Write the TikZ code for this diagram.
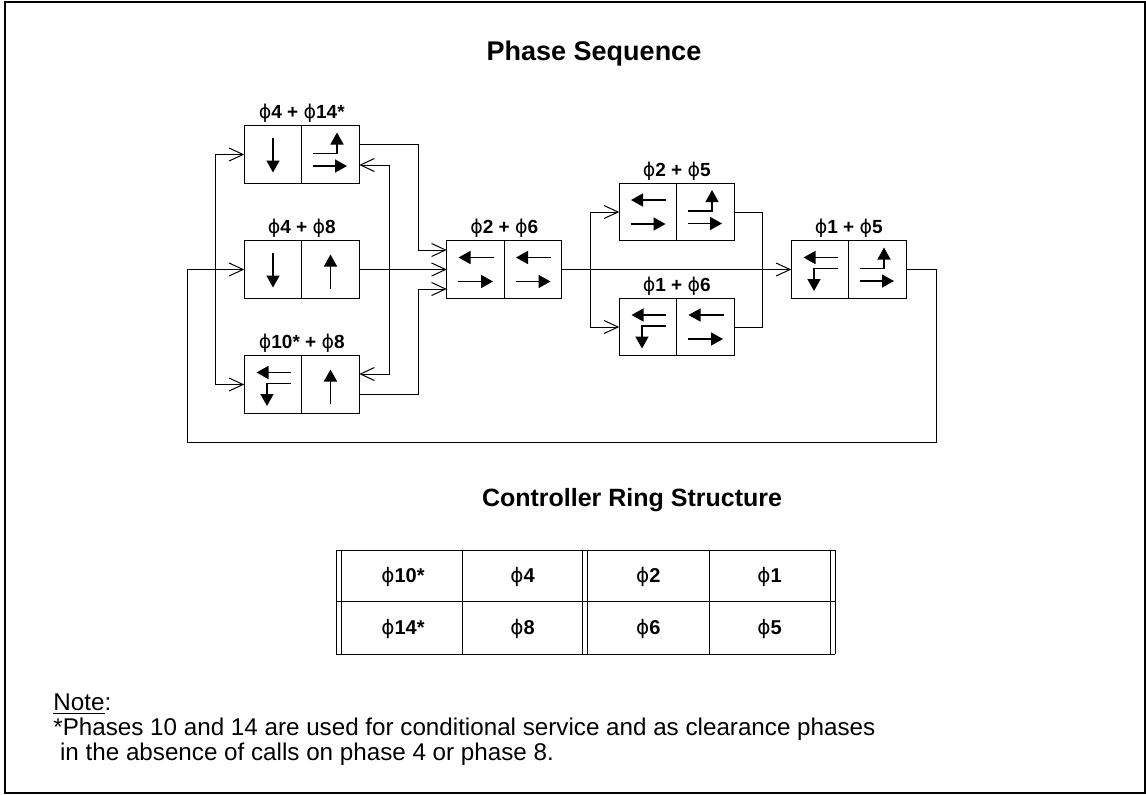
\documentclass[tikz,border=0pt]{standalone}
\usepackage{fontspec}
\setmainfont{Liberation Sans}
\newfontfamily\phifont{DejaVu Sans}
\newcommand\ph{{\phifont\mdseries ϕ}}
\usetikzlibrary{positioning,arrows.meta}

\tikzset{
  cell/.style={draw, line width=0.7pt, minimum width=28.75pt, minimum height=28.75pt,
    inner sep=0pt, outer sep=0pt},
  plabel/.style={anchor=base, inner sep=0pt, font=\fontsize{9.5}{11}\selectfont\bfseries},
  feed/.style={line width=0.5pt, -{Straight Barb[length=7pt,width=6.5pt]}},
  wire/.style={line width=0.5pt},
  mv/.style={line width=0.8pt, -{Triangle[length=6pt,width=6.5pt]}},
  heading/.style={inner sep=0pt, font=\fontsize{13.5}{16}\selectfont\bfseries},
  ringtext/.style={inner sep=0pt, font=\fontsize{10}{12}\selectfont\bfseries},
  notetext/.style={inner sep=0pt, align=left, font=\fontsize{12.1}{12.5}\selectfont},
  % movement glyphs inside a cell
  thrudown/.pic={\draw[mv] (0,-17) -- (0,18);},
  thruup/.pic={\draw[mv] (0,19) -- (0,-15);},
  bothways/.pic={\draw[mv] (18,-12) -- (-17,-12); \draw[mv] (-17.5,12) -- (17.5,12);},
  rightup/.pic={\draw[mv] (-18,-1) -| (6.5,-22); \draw[mv] (-18,11.5) -- (16.5,11.5);},
  leftdown/.pic={\draw[mv] (18,-12) -- (-16.5,-12); \draw[mv] (18,-1) -| (-6,21.5);},
}

\begin{document}
\begin{tikzpicture}[x=0.5pt, y=-0.5pt]
  \useasboundingbox (0,0) rectangle (1146,794);
  \draw[line width=1pt] (4.5,1.5) rectangle (1144.5,792.5);

  % headings
  \node[heading] (seqtitle) at (594,54) {Phase Sequence};
  \node[heading, font=\fontsize{12.5}{15}\selectfont\bfseries] (ringtitle) at (632,500) {Controller Ring Structure};

  % left column of phase pairs
  \node[cell] (ph4b) at (273,269.5) {};
  \node[cell, right=0pt of ph4b] (ph8b) {};
  \node[cell, above=28.75pt of ph4b] (ph4a) {};
  \node[cell, right=0pt of ph4a] (ph14) {};
  \node[cell, below=28.75pt of ph4b] (ph10) {};
  \node[cell, right=0pt of ph10] (ph8c) {};

  % middle pair
  \node[cell, right=43.75pt of ph8b] (ph2d) {};
  \node[cell, right=0pt of ph2d] (ph6d) {};

  % branches
  \node[cell, above right=0pt and 28.75pt of ph6d] (ph2e) {};
  \node[cell, right=0pt of ph2e] (ph5e) {};
  \node[cell, below right=0pt and 28.75pt of ph6d] (ph1f) {};
  \node[cell, right=0pt of ph1f] (ph6f) {};

  % last pair
  \node[cell, right=114.75pt of ph6d] (ph1g) {};
  \node[cell, right=0pt of ph1g] (ph5g) {};

  % pair labels
  \node[plabel] (laba) at ([yshift=3.5pt]ph4a.north east) {\ph4 + \ph14*};
  \node[plabel] (labb) at ([yshift=3.5pt]ph4b.north east) {\ph4 + \ph8};
  \node[plabel] (labc) at ([yshift=3.5pt]ph10.north east) {\ph10* + \ph8};
  \node[plabel] (labd) at ([yshift=3.5pt]ph2d.north east) {\ph2 + \ph6};
  \node[plabel] (labe) at ([yshift=3.5pt]ph2e.north east) {\ph2 + \ph5};
  \node[plabel] (labf) at ([yshift=3.5pt]ph1f.north east) {\ph1 + \ph6};
  \node[plabel] (labg) at ([yshift=3.5pt]ph1g.north east) {\ph1 + \ph5};

  % movements
  \pic at (ph4a) {thrudown};
  \pic at (ph14) {rightup};
  \pic at (ph4b) {thrudown};
  \pic at (ph8b) {thruup};
  \pic at (ph10) {leftdown};
  \pic at (ph8c) {thruup};
  \pic at (ph2d) {bothways};
  \pic at (ph6d) {bothways};
  \pic at (ph2e) {bothways};
  \pic at (ph5e) {rightup};
  \pic at (ph1f) {leftdown};
  \pic at (ph6f) {bothways};
  \pic at (ph1g) {leftdown};
  \pic at (ph5g) {rightup};

  % bus points
  \coordinate (busL) at (215.5,269.5);
  \coordinate (busR) at (389,269.5);
  \coordinate (dropA) at (418,250);
  \coordinate (riseC) at (418,289);
  \coordinate (split) at (590,269.5);
  \coordinate (merge) at (762,269.5);
  \coordinate (loopR) at (936,442);
  \coordinate (loopL) at (187,442);

  % sequence connectors
  \draw[feed] (ph5g.east) -| (loopR) -- (loopL) |- (ph4b.west);
  \draw[feed] (busL) |- (ph4a.west);
  \draw[feed] (busL) |- (ph10.west);
  \draw[feed] (busR) |- ([yshift=-5.25pt]ph14.east);
  \draw[feed] (busR) |- ([yshift=5.25pt]ph8c.east);
  \draw[feed] ([yshift=5.25pt]ph14.east) -| (dropA) -- ([yshift=9.75pt]ph2d.west);
  \draw[feed] (ph8b.east) -- (ph2d.west);
  \draw[feed] ([yshift=-4.75pt]ph8c.east) -| (riseC) -- ([yshift=-9.75pt]ph2d.west);
  \draw[feed] (ph6d.east) -- (ph1g.west);
  \draw[feed] (split) |- (ph2e.west);
  \draw[feed] (split) |- (ph1f.west);
  \draw[wire] (ph5e.east) -| (merge);
  \draw[wire] (ph6f.east) -| (merge);

  % ring structure table
  \draw[wire] (336,550) -- (835,550);
  \draw[wire] (336,601.7) -- (835,601.7);
  \draw[wire] (336,654) -- (835,654);
  \draw[wire] (336,550) -- (336,654);
  \draw[wire] (341.3,550) -- (341.3,654);
  \draw[wire] (462.3,550) -- (462.3,654);
  \draw[wire] (582.7,550) -- (582.7,654);
  \draw[wire] (587.7,550) -- (587.7,654);
  \draw[wire] (709,550) -- (709,654);
  \draw[wire] (830,550) -- (830,654);
  \draw[wire] (835,550) -- (835,654);

  \node[ringtext] (r10) at (403,576.5) {\ph10*};
  \node[ringtext] (r4) at (522.5,576.5) {\ph4};
  \node[ringtext] (r2) at (648.3,576.5) {\ph2};
  \node[ringtext] (r1) at (769.5,576.5) {\ph1};
  \node[ringtext] (r14) at (403,628.5) {\ph14*};
  \node[ringtext] (r8) at (522.5,628.5) {\ph8};
  \node[ringtext] (r6) at (648.3,628.5) {\ph6};
  \node[ringtext] (r5) at (769.5,628.5) {\ph5};

  % note
  \node[notetext, anchor=north west] (note) at (53,693) {\underline{Note}:\\{}*Phases 10 and 14 are used for conditional service and as clearance phases\\\ in the absence of calls on phase 4 or phase 8.};
\end{tikzpicture}
\end{document}
